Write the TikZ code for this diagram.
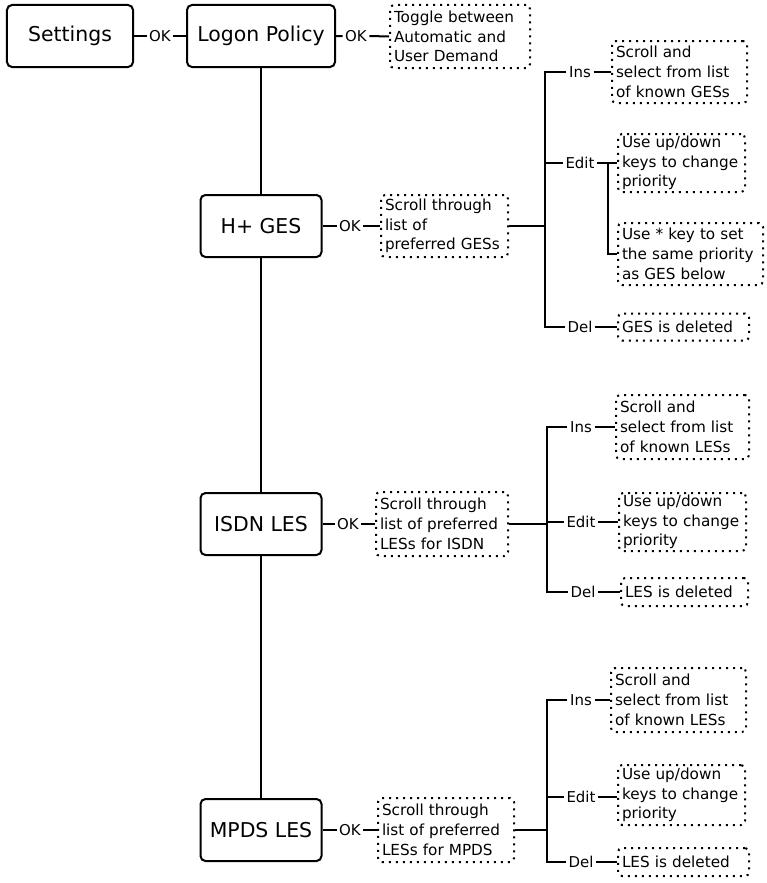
\documentclass[tikz,border=0pt]{standalone}
\usepackage{fontspec}
\setmainfont{DejaVu Sans}
\begin{document}
\begin{tikzpicture}[x=1bp,y=-1bp,
 sbox/.style={draw, line width=2bp, rounded corners=5bp, minimum height=62bp, inner sep=0pt, font=\fontsize{20.5}{24}\selectfont},
 dbox/.style={draw, line width=2bp, dash pattern=on 2bp off 5bp, rounded corners=4bp, align=left, inner xsep=4bp, inner ysep=0pt, font=\fontsize{15.3}{19.8}\selectfont, anchor=west},
 lab/.style={inner sep=2.5bp, font=\fontsize{15}{16}\selectfont},
 conn/.style={line width=2bp}]
\useasboundingbox (0,0) rectangle (767,883);
% top row
\node[sbox, minimum width=126bp] (set) at (70,36) {Settings};
\node[sbox, minimum width=148bp] (lp) at (261,36) {Logon Policy};
\node[lab] (ok1) at (160,36) {OK};
\node[lab] (ok2) at (356,36) {OK};
\node[dbox, text width=132bp, minimum height=63bp] (tg) at (389,36.5) {Toggle between\\Automatic and\\User Demand};
\draw[conn] (set.east) -- (ok1.west) (ok1.east) -- (lp.west);
\draw[conn] (lp.east) -- (ok2.west) (ok2.east) -- (tg.west);
% H+ GES
\node[sbox, minimum width=121bp] (hg) at (261,226) {H+ GES};
\node[lab] (ok3) at (350,226) {OK};
\node[dbox, text width=119bp, minimum height=62bp] (hs) at (380,226) {Scroll through\\list of\\preferred GESs};
\coordinate (hb) at (545,226);
\node[lab] (hIns) at (580,72) {Ins};
\node[lab] (hEdit) at (580,163) {Edit};
\node[lab] (hDel) at (580,327) {Del};
\node[dbox, text width=127bp, minimum height=62bp] (hi) at (611,72) {Scroll and\\select from list\\of known GESs};
\node[dbox, text width=119bp, minimum height=58bp] (he1) at (617,163) {Use up/down\\keys to change\\priority};
\node[dbox, text width=137bp, minimum height=62bp] (he2) at (617,254) {Use * key to set\\the same priority\\as GES below};
\node[dbox, text width=123bp, minimum height=27bp] (hd) at (617,327) {GES is deleted};
\coordinate (hj) at (608,163);
\draw[conn] (hg.east) -- (ok3.west) (ok3.east) -- (hs.west);
\draw[conn] (hs.east) -- (hb);
\draw[conn] (hIns.west) -| (hb) |- (hDel.west);
\draw[conn] (hb |- hEdit.west) -- (hEdit.west);
\draw[conn] (hIns.east) -- (hi.west);
\draw[conn] (hEdit.east) -- (he1.west);
\draw[conn] (hj) |- (he2.west);
\draw[conn] (hDel.east) -- (hd.west);
% ISDN LES
\node[sbox, minimum width=121bp] (il) at (261,524) {ISDN LES};
\node[lab] (ok4) at (348,524) {OK};
\node[dbox, text width=124bp, minimum height=64bp] (is) at (375,524) {Scroll through\\list of preferred\\LESs for ISDN};
\coordinate (ib) at (547,524);
\node[lab] (iIns) at (581,427) {Ins};
\node[lab] (iEdit) at (581,522) {Edit};
\node[lab] (iDel) at (583,592) {Del};
\node[dbox, text width=125bp, minimum height=64bp] (ii) at (615,427) {Scroll and\\select from list\\of known LESs};
\node[dbox, text width=119bp, minimum height=58bp] (ie) at (618,522) {Use up/down\\keys to change\\priority};
\node[dbox, text width=119bp, minimum height=28bp] (id) at (620,592) {LES is deleted};
\draw[conn] (il.east) -- (ok4.west) (ok4.east) -- (is.west);
\draw[conn] (is.east) -- (ib);
\draw[conn] (iIns.west) -| (ib) |- (iDel.west);
\draw[conn] (ib |- iEdit.west) -- (iEdit.west);
\draw[conn] (iIns.east) -- (ii.west);
\draw[conn] (iEdit.east) -- (ie.west);
\draw[conn] (iDel.east) -- (id.west);
% MPDS LES
\node[sbox, minimum width=121bp] (ml) at (261,830) {MPDS LES};
\node[lab] (ok5) at (350,830) {OK};
\node[dbox, text width=128bp, minimum height=64bp] (ms) at (377,830) {Scroll through\\list of preferred\\LESs for MPDS};
\coordinate (mb) at (547,830);
\node[lab] (mIns) at (581,700) {Ins};
\node[lab] (mEdit) at (581,797) {Edit};
\node[lab] (mDel) at (581,862) {Del};
\node[dbox, text width=127bp, minimum height=64bp] (mi) at (610,700) {Scroll and\\select from list\\of known LESs};
\node[dbox, text width=119bp, minimum height=60bp] (me) at (617,795) {Use up/down\\keys to change\\priority};
\node[dbox, text width=123bp, minimum height=28bp] (md) at (617,862) {LES is deleted};
\draw[conn] (ml.east) -- (ok5.west) (ok5.east) -- (ms.west);
\draw[conn] (ms.east) -- (mb);
\draw[conn] (mIns.west) -| (mb) |- (mDel.west);
\draw[conn] (mb |- mEdit.west) -- (mEdit.west);
\draw[conn] (mIns.east) -- (mi.west);
\draw[conn] (mEdit.east) -- (me.west |- mEdit.east);
\draw[conn] (mDel.east) -- (md.west);
% main spine
\draw[conn] (lp.south) -- (hg.north) (hg.south) -- (il.north) (il.south) -- (ml.north);
\end{tikzpicture}
\end{document}
